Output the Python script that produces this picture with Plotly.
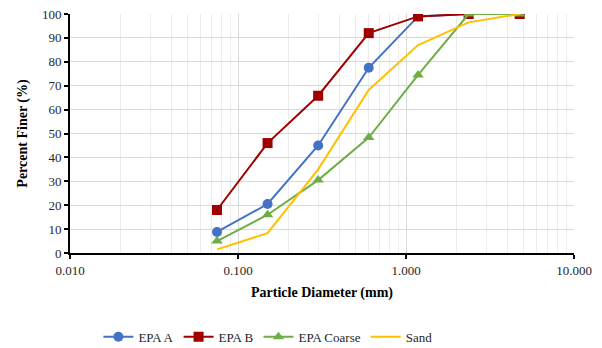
import plotly.graph_objects as go

sizes = [0.075, 0.15, 0.3, 0.6, 1.18, 2.36, 4.75]
epa_a = [8.8, 20.5, 45.0, 77.5, 99.0, 100.0, 100.0]
epa_b = [18.0, 46.0, 65.8, 92.0, 99.0, 100.0, 100.0]
epa_coarse = [5.0, 16.0, 30.5, 48.3, 74.5, 100.0, 100.0]
sand = [1.5, 8.3, 35.0, 68.2, 87.0, 96.5, 100.0]
x_ticks = [0.01, 0.1, 1.0, 10.0]
x_ticktext = ["0.010", "0.100", "1.000", "10.000"]
minor_vals = [m * d for d in [0.01, 0.1, 1.0] for m in range(2, 10)]

font_family = "Liberation Serif, Times New Roman, serif"
fig = go.Figure()
series = [
    ("EPA A", epa_a, "#4472C4", "circle"),
    ("EPA B", epa_b, "#A00000", "square"),
    ("EPA Coarse", epa_coarse, "#70AD47", "triangle-up"),
    ("Sand", sand, "#FFC000", None),
]
for name, vals, col, sym in series:
    if sym:
        fig.add_trace(go.Scatter(x=sizes, y=vals, name=name, mode="lines+markers",
                                 line=dict(color=col, width=2),
                                 marker=dict(symbol=sym, size=10, color=col)))
    else:
        fig.add_trace(go.Scatter(x=sizes, y=vals, name=name, mode="lines",
                                 line=dict(color=col, width=2)))

fig.update_layout(
    width=602, height=348,
    margin=dict(l=70, r=28, t=14, b=95, autoexpand=False),
    paper_bgcolor="white", plot_bgcolor="white",
    font=dict(family=font_family, size=13, color="#262626"),
    legend=dict(orientation="h", x=0.445, xanchor="center", y=0.032, yanchor="middle",
                yref="container", xref="container",
                font=dict(family=font_family, size=13, color="#262626"), tracegroupgap=0),
    showlegend=True,
)
fig.update_xaxes(
    type="log", range=[-2, 1],
    tickvals=x_ticks, ticktext=x_ticktext,
    showgrid=True, gridcolor="#d9d9d9", gridwidth=1,
    minor=dict(tickvals=minor_vals, showgrid=True, gridcolor="#ececec", gridwidth=1, ticks=""),
    showline=True, linecolor="black", linewidth=2,
    ticks="outside", ticklen=4, tickcolor="black", tickwidth=1.5,
    tickfont=dict(family=font_family, size=13, color="#262626"),
    title=dict(text="<b>Particle Diameter (mm)</b>", font=dict(family=font_family, size=14, color="black"), standoff=11),
    zeroline=False, automargin=False,
)
fig.update_yaxes(
    range=[0, 100], dtick=10,
    showgrid=True, gridcolor="#d9d9d9", gridwidth=1,
    showline=True, linecolor="black", linewidth=2,
    ticks="outside", ticklen=4, tickcolor="black", tickwidth=1.5,
    tickfont=dict(family=font_family, size=13, color="#262626"),
    title=dict(text="<b>Percent Finer (%)</b>", font=dict(family=font_family, size=14, color="black"), standoff=11),
    zeroline=False, automargin=False,
)
fig.write_html("out.html")
